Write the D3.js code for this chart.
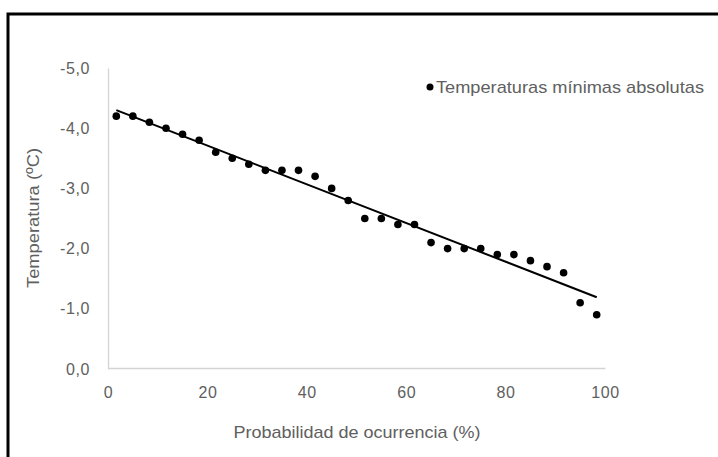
<!DOCTYPE html>
<html>
<head>
<meta charset="utf-8">
<script src="https://cdn.jsdelivr.net/npm/d3@7"></script>
<style>
  html, body { margin: 0; padding: 0; background: #fff; }
  svg { display: block; }
  text { font-family: "Liberation Sans Narrow", "Liberation Sans", Arial, sans-serif; fill: #606060; }
</style>
</head>
<body>
<svg id="chart" width="718" height="457"></svg>
<script>
// Probabilidad de ocurrencia (%) de cada valor ordenado
const probabilidad = [1.67, 5.00, 8.33, 11.67, 15.00, 18.33, 21.67, 25.00, 28.33, 31.67,
                      35.00, 38.33, 41.67, 45.00, 48.33, 51.67, 55.00, 58.33, 61.67, 65.00,
                      68.33, 71.67, 75.00, 78.33, 81.67, 85.00, 88.33, 91.67, 95.00, 98.33];
// Temperaturas mínimas absolutas (ºC)
const temperatura = [-4.2, -4.2, -4.1, -4.0, -3.9, -3.8, -3.6, -3.5, -3.4, -3.3,
                     -3.3, -3.3, -3.2, -3.0, -2.8, -2.5, -2.5, -2.4, -2.4, -2.1,
                     -2.0, -2.0, -2.0, -1.9, -1.9, -1.8, -1.7, -1.6, -1.1, -0.9];
const xTicks = [0, 20, 40, 60, 80, 100];
const yTicks = [0, -1, -2, -3, -4, -5];
const serieNombre = "Temperaturas mínimas absolutas";

const FONT = '"Liberation Sans Narrow", "Liberation Sans", Arial, sans-serif';
const svg = d3.select("#chart");

// Marco exterior
svg.append("rect")
  .attr("x", 8).attr("y", 14)
  .attr("width", 760).attr("height", 500)
  .attr("fill", "none").attr("stroke", "#000").attr("stroke-width", 3);

const x = d3.scaleLinear().domain([0, 100]).range([108, 605]);
const y = d3.scaleLinear().domain([0, -5]).range([369, 68]);

const fmt = d => d.toFixed(1).replace(".", ",");

// Eje Y
const yAxis = svg.append("g")
  .attr("transform", `translate(${x(0)},0)`)
  .call(d3.axisLeft(y).tickValues(yTicks).tickFormat(fmt).tickSize(0).tickPadding(18));
yAxis.select(".domain").attr("stroke", "#d4d4d4").attr("stroke-width", 1.3);
yAxis.selectAll("text")
  .style("font-family", FONT)
  .attr("font-size", 16).attr("fill", "#606060").attr("letter-spacing", 0.6);

// Eje X
const xAxis = svg.append("g")
  .attr("transform", `translate(0,${y(0) - 1})`)
  .call(d3.axisBottom(x).tickValues(xTicks).tickFormat(d3.format("d")).tickSize(0).tickPadding(19));
xAxis.select(".domain").attr("stroke", "#d4d4d4").attr("stroke-width", 1.3);
xAxis.selectAll("text")
  .style("font-family", FONT)
  .attr("font-size", 16).attr("fill", "#606060").attr("letter-spacing", 0.6);

// Línea de tendencia (regresión lineal)
const n = probabilidad.length;
const mx = d3.mean(probabilidad), my = d3.mean(temperatura);
let sxy = 0, sxx = 0;
for (let i = 0; i < n; i++) {
  sxy += (probabilidad[i] - mx) * (temperatura[i] - my);
  sxx += (probabilidad[i] - mx) ** 2;
}
const b = sxy / sxx, a = my - b * mx;
const x0 = d3.min(probabilidad), x1 = d3.max(probabilidad);
svg.append("line")
  .attr("x1", x(x0)).attr("y1", y(a + b * x0))
  .attr("x2", x(x1)).attr("y2", y(a + b * x1))
  .attr("stroke", "#000").attr("stroke-width", 2);

// Puntos
svg.append("g").selectAll("circle")
  .data(probabilidad.map((p, i) => [p, temperatura[i]]))
  .join("circle")
  .attr("cx", d => x(d[0])).attr("cy", d => y(d[1]))
  .attr("r", 3.8).attr("fill", "#000");

// Títulos de ejes
svg.append("text")
  .attr("transform", "translate(39,218) rotate(-90)")
  .attr("text-anchor", "middle")
  .attr("font-size", 17)
  .attr("textLength", 140).attr("lengthAdjust", "spacingAndGlyphs")
  .text("Temperatura (ºC)");

svg.append("text")
  .attr("x", 357).attr("y", 438)
  .attr("text-anchor", "middle")
  .attr("font-size", 17)
  .attr("textLength", 247).attr("lengthAdjust", "spacingAndGlyphs")
  .text("Probabilidad de ocurrencia (%)");

// Leyenda
const leg = svg.append("g");
leg.append("circle").attr("cx", 430).attr("cy", 87).attr("r", 3.5).attr("fill", "#000");
leg.append("text")
  .attr("x", 436).attr("y", 93)
  .attr("font-size", 17)
  .attr("textLength", 268).attr("lengthAdjust", "spacingAndGlyphs")
  .text(serieNombre);
</script>
</body>
</html>
